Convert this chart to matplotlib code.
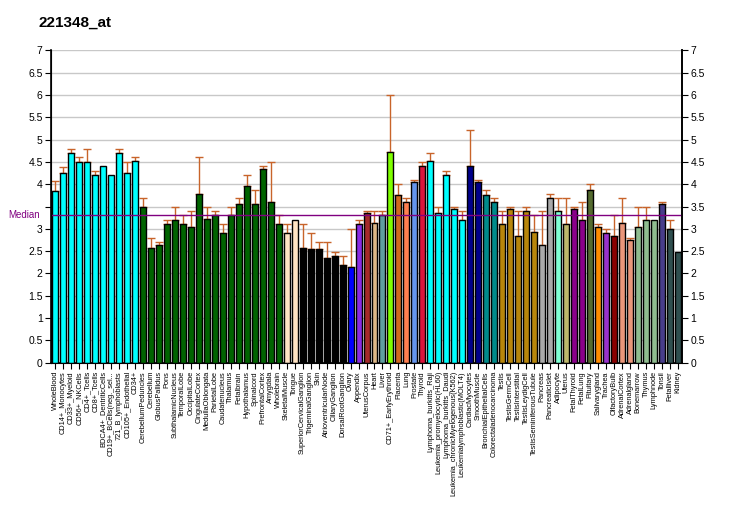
import numpy as np
import matplotlib
matplotlib.use('Agg')
import matplotlib.pyplot as plt
import matplotlib.transforms as mtransforms

plt.rcParams['font.family'] = ['Liberation Sans', 'DejaVu Sans']

labels = ['WholeBlood', 'CD14+_Monocytes', 'CD33+_Myeloid', 'CD56+_NKCells', 'CD4+_Tcells',
          'CD8+_Tcells', 'BDCA4+_DentriticCells', 'CD19+_BCells(neg._sel...', '721_B_lymphoblasts',
          'CD105+_Endothelial', 'CD34+', 'CerebellumPeduncles', 'Cerebellum', 'GlobusPallidus',
          'Pons', 'SubthalamicNucleus', 'TemporalLobe', 'OccipitalLobe', 'CingulateCortex',
          'MedullaOblongata', 'ParietalLobe', 'Caudatenucleus', 'Thalamus', 'Fetalbrain',
          'Hypothalamus', 'Spinalcord', 'PrefrontalCortex', 'Amygdala', 'Wholebrain',
          'SkeletalMuscle', 'Tongue', 'SuperiorCervicalGanglion', 'TrigeminalGanglion', 'Skin',
          'AtrioventricularNode', 'CiliaryGanglion', 'DorsalRootGanglion', 'Ovary', 'Appendix',
          'UterusCorpus', 'Heart', 'Liver', 'CD71+_EarlyErythroid', 'Placenta', 'Lung',
          'Prostate', 'Thyroid', 'Lymphoma_burkitts_Raji', 'Leukemia_promyelocytic(HL60)',
          'Lymphoma_burkitts_Daudi', 'Leukemia_chronicMyelogenous(K562)',
          'Leukemialymphoblastic(MOLT4)', 'CardiacMyocytes', 'SmoothMuscle',
          'BronchialEpithelialCells', 'Colorectaladenocarcinoma', 'Testis', 'TestisGermCell',
          'TestisInterstitial', 'TestisLeydigCell', 'TestisSeminiferousTubule', 'Pancreas',
          'PancreaticIslet', 'Adipocyte', 'Uterus', 'FetalThyroid', 'FetalLung', 'Pituitary',
          'Salivarygland', 'Trachea', 'OlfactoryBulb', 'AdrenalCortex', 'Adrenalgland',
          'Bonemarrow', 'Thymus', 'Lymphnode', 'Tonsil', 'Fetalliver', 'Kidney']

values = [3.85, 4.24, 4.69, 4.49, 4.49, 4.20, 4.40, 4.20, 4.69, 4.24, 4.53,
          3.49, 2.58, 2.63, 3.10, 3.19, 3.10, 3.03, 3.79, 3.23, 3.30, 2.90, 3.30,
          3.55, 3.95, 3.55, 4.35, 3.59, 3.10, 2.90, 3.19, 2.58, 2.54, 2.54, 2.34,
          2.38, 2.18, 2.14, 3.10, 3.35, 3.14, 3.30, 4.73, 3.75, 3.59, 4.04, 4.40,
          4.53, 3.35, 4.20, 3.44, 3.19, 4.40, 4.04, 3.75, 3.59, 3.10, 3.44, 2.83,
          3.39, 2.94, 2.63, 3.68, 3.39, 3.10, 3.44, 3.19, 3.88, 3.03, 2.90, 2.83,
          3.14, 2.74, 3.03, 3.19, 3.19, 3.55, 2.99, 2.49]

upper = [4.08, 4.39, 4.80, 4.60, 4.80, 4.29, 4.40, 4.20, 4.80, 4.49, 4.60,
         3.68, 2.79, 2.70, 3.19, 3.48, 3.30, 3.39, 4.60, 3.48, 3.39, 3.10, 3.48,
         3.68, 4.20, 3.88, 4.40, 4.49, 3.30, 3.10, 3.19, 3.10, 2.90, 2.70, 2.70,
         2.49, 2.38, 2.99, 3.19, 3.39, 3.39, 3.39, 5.99, 4.00, 3.68, 4.09, 4.49,
         4.69, 3.48, 4.29, 3.48, 3.39, 5.21, 4.09, 3.88, 3.68, 3.39, 3.48, 3.39,
         3.48, 3.30, 3.39, 3.79, 3.68, 3.68, 3.48, 3.59, 4.00, 3.10, 2.99, 3.30,
         3.68, 2.79, 3.48, 3.48, 3.19, 3.59, 3.19, 2.49]

colors = ['cyan'] * 11 + ['darkgreen'] * 18 + ['bisque'] * 2 + ['black'] * 6 + \
         ['blue', 'blueviolet', 'brown', 'burlywood', 'cadetblue', 'chartreuse', 'chocolate',
          'coral', 'cornflowerblue', 'crimson'] + ['cyan'] * 5 + ['darkblue'] * 2 + \
         ['darkcyan'] * 2 + ['darkgoldenrod'] * 5 + ['darkgray'] * 2 + \
         ['aquamarine', 'darkkhaki', 'darkmagenta', 'darkmagenta', 'darkolivegreen',
          'darkorange', 'darkorchid', 'darkred', 'darksalmon', 'darksalmon'] + \
         ['darkseagreen'] * 3 + ['darkslateblue', 'darkslategray', 'darkslategray']

median = 3.31
title = '221348_at'

fig = plt.figure(figsize=(7.32, 5.30), dpi=100)
ax = fig.add_axes([0.0697, 0.3157, 0.862, 0.5893])

x = np.arange(len(values))
ax.bar(x, values, width=0.75, color=colors, edgecolor='black', linewidth=1, zorder=3)

vals = np.array(values)
up = np.array(upper)
m = up > vals + 0.005
ax.errorbar(x[m], vals[m], yerr=[np.zeros(m.sum()), up[m] - vals[m]], fmt='none',
            ecolor='#c8642a', elinewidth=1, capsize=3, capthick=1, zorder=2)

ax.axhline(median, color='purple', linewidth=1, zorder=4)
trans = mtransforms.blended_transform_factory(fig.transFigure, ax.transData)
ax.text(8 / 732, median, 'Median', color='purple', fontsize=7, ha='left', va='center',
        transform=trans, clip_on=False)

ax.set_xlim(-0.5, len(values) - 0.5)
ax.set_ylim(0, 7)
yt = np.arange(0, 7.01, 0.5)
ax.set_yticks(yt)
ax.set_yticklabels(['' if v == 3.5 else '%g' % v for v in yt], fontsize=7.5)
ax.yaxis.grid(True, color='#c8c8c8', linewidth=1, zorder=0)
ax.set_axisbelow(True)
ax.tick_params(axis='y', length=4, pad=2)

# right axis keeps every label
ax2 = ax.twinx()
ax2.set_ylim(0, 7)
ax2.set_yticks(yt)
ax2.set_yticklabels(['%g' % v for v in yt], fontsize=7.5)
ax2.tick_params(axis='y', length=4, pad=2)
ax2.spines['top'].set_visible(False)
ax2.spines['right'].set_linewidth(1.2)

ax.set_xticks(x)
ax.set_xticklabels(labels, rotation=90, fontsize=5.3)
ax.tick_params(axis='x', length=4, pad=2)

ax.spines['top'].set_visible(False)
for s in ['left', 'right', 'bottom']:
    ax.spines[s].set_linewidth(1.2)

fig.text(0.052, 0.958, title, fontsize=11, fontweight='bold', va='center', ha='left')

fig.savefig('out.png', dpi=100)
